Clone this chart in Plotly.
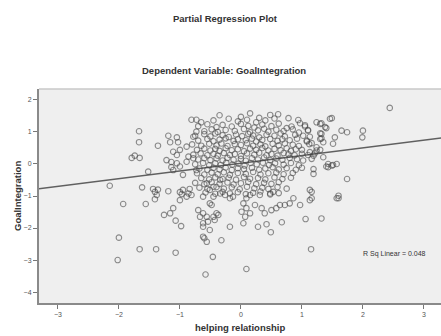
import plotly.graph_objects as go

# ---- data ----
LEFT_POINTS = [
    (-2.15, -0.68), (-2.02, -3.0), (-2.0, -2.30), (-1.93, -1.25), (-1.79, 0.19), (-1.74, 0.26),
    (-1.67, 1.02), (-1.67, 0.68), (-1.66, 0.19), (-1.66, -2.66), (-1.62, -0.73), (-1.56, -1.25),
    (-1.52, -0.24), (-1.44, -0.78), (-1.41, -0.87), (-1.41, -1.10), (-1.39, -2.66), (-1.38, -0.97),
    (-1.36, 0.57), (-1.36, -0.80), (-1.26, -1.59), (-1.22, 0.12), (-1.19, 0.88), (-1.19, -0.85),
    (-1.16, 0.68), (-1.16, -1.54), (-1.14, -0.10), (-1.14, 0.06), (-1.11, -1.38), (-1.11, -0.19),
    (-1.11, 0.38), (-1.07, -1.77), (-1.07, -2.77), (-1.05, 0.83), (-1.05, 0.02), (-1.05, 0.28),
    (-1.03, 0.68), (-1.0, -0.08), (-1.0, 0.44), (-1.0, -0.88), (-1.0, -1.13), (-0.98, -1.94),
    (-0.97, -0.94), (-0.95, -0.34), (-0.95, -0.81), (-0.89, 0.07), (-0.89, 0.54), (-0.89, -1.02),
    (-0.86, 0.23), (-0.86, -0.92), (-0.84, -0.78), (-0.81, 1.38), (-0.81, -0.97), (-0.78, 0.85),
    (-0.78, 0.18), (-0.73, 1.38), (-0.73, 1.01), (-0.73, -0.19),
]

LOWER_POINTS = [
    (-0.70, -1.44), (-0.67, -1.65), (-0.62, -1.02), (-0.62, -1.54), (-0.62, -1.85), (-0.62, -1.96),
    (-0.62, -2.27), (-0.60, -2.32), (-0.56, -2.43), (-0.58, -3.45), (-0.56, -1.65), (-0.56, -0.60),
    (-0.54, -1.80), (-0.51, -1.23), (-0.51, -2.06), (-0.51, -0.81), (-0.48, -1.28), (-0.46, -2.90),
    (-0.45, -1.02), (-0.45, -1.65), (-0.45, -0.71), (-0.43, -1.75), (-0.40, -1.54), (-0.37, -1.59),
    (-0.34, -0.92), (-0.34, -0.50), (-0.32, -2.38), (-0.26, -0.97), (-0.18, -1.07), (-0.18, -1.96),
    (-0.13, -1.02), (0.01, -1.49), (0.04, -1.23), (0.04, -1.85), (0.07, -1.65), (0.09, -1.07),
    (0.09, -1.38), (0.09, -3.28), (0.15, -0.97), (0.15, -1.54), (0.23, -1.28), (0.28, -1.96),
    (0.31, -0.97), (0.34, -1.38), (0.39, -1.54), (0.42, -1.88), (0.48, -0.92), (0.49, -2.13),
    (0.50, -1.44), (0.53, -0.87), (0.58, -1.38), (0.64, -1.28), (0.67, -1.82), (0.72, -1.28),
    (0.80, -1.23), (0.86, -1.07), (0.97, -1.28), (1.06, -1.72), (1.13, -1.13), (1.13, -0.81),
    (1.15, -2.66), (1.16, -0.87), (1.16, -1.07), (1.32, -1.70), (1.57, -1.07), (1.60, -1.07),
    (1.60, -0.99),
]

RIGHT_POINTS = [
    (2.44, 1.75), (1.46, 1.41), (1.49, 1.43), (1.24, 1.30), (1.30, 1.25), (1.32, 1.27), (1.38, 1.15),
    (1.40, 1.12), (1.65, 1.04), (1.74, 0.99), (2.0, 1.04), (1.99, 0.83), (1.54, 0.83), (1.51, 0.63),
    (1.32, 0.94), (1.30, 0.78), (1.35, 0.68), (1.24, 0.52), (1.24, 0.42), (1.19, 0.26), (1.16, 0.16),
    (1.13, 0.37), (1.35, 0.21), (1.43, 0.0), (1.49, -0.05), (1.57, 0.0), (1.43, -0.10), (1.51, -0.03),
    (1.40, -0.08), (1.19, -0.16), (1.19, -0.31), (1.74, -0.47), (1.30, 0.44), (1.21, 0.33),
    (1.13, 0.85), (1.08, 0.70), (1.16, 0.65), (1.30, 0.96), (1.32, 0.80), (1.05, 1.17), (1.10, 1.06),
]

CORE_POINTS = [
    (-0.35, 1.52), (0.0, 1.47), (0.15, 1.58), (0.30, 1.44), (0.48, 1.53), (0.61, 1.55),
    (-0.65, 1.30), (-0.45, 1.36), (-0.2, 1.41), (-0.05, 1.33), (0.1, 1.38), (0.25, 1.30), (0.4, 1.36),
    (0.55, 1.42), (0.78, 1.43), (0.94, 1.37),
    (-0.7, 1.18), (-0.55, 1.24), (-0.4, 1.15), (-0.3, 1.22), (-0.15, 1.17), (0.0, 1.25), (0.12, 1.19),
    (0.22, 1.14), (0.35, 1.23), (0.5, 1.18), (0.62, 1.26), (0.75, 1.12), (0.83, 1.17), (0.97, 1.27),
    (1.05, 1.21),
    (-0.6, 1.02), (-0.48, 1.08), (-0.38, 1.0), (-0.25, 1.06), (-0.1, 1.03), (0.05, 1.09), (0.15, 0.99),
    (0.28, 1.05), (0.38, 1.1), (0.45, 1.01), (0.58, 1.07), (0.7, 1.03), (0.85, 1.08), (0.95, 0.98),
    (1.1, 1.04),
    (-0.75, 0.88), (-0.6, 0.93), (-0.5, 0.86), (-0.42, 0.95), (-0.3, 0.9), (-0.2, 0.84), (-0.08, 0.92),
    (0.02, 0.87), (0.12, 0.94), (0.2, 0.89), (0.3, 0.83), (0.42, 0.91), (0.55, 0.88), (0.65, 0.95),
    (0.72, 0.86), (0.89, 0.91), (1.02, 0.88),
    (-0.7, 0.73), (-0.55, 0.78), (-0.45, 0.71), (-0.35, 0.76), (-0.25, 0.8), (-0.12, 0.72), (-0.05, 0.77),
    (0.08, 0.74), (0.18, 0.79), (0.25, 0.7), (0.35, 0.75), (0.48, 0.78), (0.6, 0.72), (0.68, 0.77),
    (0.8, 0.74), (0.92, 0.79), (1.08, 0.73),
    (-0.8, 0.61), (-0.65, 0.57), (-0.52, 0.63), (-0.4, 0.58), (-0.32, 0.64), (-0.22, 0.56), (-0.1, 0.62),
    (0.0, 0.59), (0.1, 0.65), (0.2, 0.57), (0.32, 0.61), (0.4, 0.55), (0.52, 0.63), (0.62, 0.58),
    (0.72, 0.64), (0.85, 0.6), (0.95, 0.56), (1.12, 0.62),
    (-0.72, 0.44), (-0.6, 0.48), (-0.5, 0.42), (-0.42, 0.47), (-0.35, 0.41), (-0.25, 0.49), (-0.15, 0.43),
    (-0.05, 0.46), (0.05, 0.4), (0.15, 0.48), (0.25, 0.44), (0.35, 0.5), (0.45, 0.42), (0.55, 0.47),
    (0.65, 0.43), (0.75, 0.49), (0.82, 0.41), (0.9, 0.46), (1.0, 0.44),
    (-0.78, 0.29), (-0.66, 0.33), (-0.55, 0.27), (-0.45, 0.32), (-0.38, 0.26), (-0.28, 0.34),
    (-0.18, 0.28), (-0.1, 0.31), (0.0, 0.25), (0.1, 0.33), (0.22, 0.29), (0.3, 0.35), (0.42, 0.27),
    (0.5, 0.31), (0.6, 0.26), (0.7, 0.34), (0.78, 0.3), (0.88, 0.27), (1.0, 0.32), (1.1, 0.28),
    (-0.7, 0.14), (-0.6, 0.18), (-0.5, 0.12), (-0.4, 0.17), (-0.3, 0.11), (-0.22, 0.19), (-0.12, 0.13),
    (0.0, 0.16), (0.08, 0.1), (0.18, 0.18), (0.28, 0.14), (0.38, 0.2), (0.48, 0.12), (0.58, 0.17),
    (0.68, 0.13), (0.8, 0.19), (0.92, 0.15), (1.02, 0.11),
    (-0.75, -0.01), (-0.62, 0.03), (-0.52, -0.04), (-0.42, 0.02), (-0.33, -0.03), (-0.24, 0.04),
    (-0.14, -0.02), (-0.04, 0.01), (0.06, -0.05), (0.16, 0.03), (0.26, -0.01), (0.36, 0.04),
    (0.46, -0.03), (0.56, 0.02), (0.7, -0.02), (0.82, 0.03), (0.95, -0.04),
    (-0.68, -0.14), (-0.55, -0.18), (-0.45, -0.12), (-0.35, -0.17), (-0.25, -0.11), (-0.15, -0.19),
    (-0.05, -0.13), (0.05, -0.16), (0.18, -0.12), (0.3, -0.18), (0.4, -0.14), (0.52, -0.1),
    (0.62, -0.17), (0.75, -0.13), (0.9, -0.18), (1.0, -0.12),
    (-0.72, -0.29), (-0.6, -0.33), (-0.48, -0.27), (-0.38, -0.32), (-0.28, -0.26), (-0.18, -0.34),
    (-0.05, -0.28), (0.08, -0.31), (0.2, -0.25), (0.32, -0.33), (0.45, -0.29), (0.58, -0.27),
    (0.7, -0.32), (0.85, -0.28),
    (-0.65, -0.44), (-0.52, -0.48), (-0.42, -0.42), (-0.3, -0.47), (-0.2, -0.43), (-0.08, -0.49),
    (0.05, -0.41), (0.15, -0.46), (0.28, -0.44), (0.4, -0.48), (0.55, -0.42), (0.68, -0.47), (0.82, -0.43),
    (-0.75, -0.59), (-0.6, -0.63), (-0.48, -0.57), (-0.35, -0.62), (-0.22, -0.58), (-0.12, -0.64),
    (0.0, -0.6), (0.12, -0.56), (0.25, -0.63), (0.38, -0.59), (0.5, -0.62), (0.62, -0.57),
    (-0.68, -0.74), (-0.55, -0.78), (-0.4, -0.72), (-0.28, -0.77), (-0.15, -0.73), (-0.02, -0.79),
    (0.1, -0.71), (0.22, -0.76), (0.35, -0.74), (0.45, -0.78), (0.6, -0.72), (0.75, -0.77),
    (-0.58, -0.89), (-0.42, -0.93), (-0.3, -0.87), (-0.18, -0.92), (-0.05, -0.88), (0.08, -0.94),
    (0.2, -0.9), (0.32, -0.86), (0.48, -0.95), (0.62, -0.91),
]

FIT_INTERCEPT = 0.02
FIT_SLOPE = 0.24
X_RANGE = [-3.31, 3.28]
Y_RANGE = [-4.34, 2.34]
X_TICKS = [-3, -2, -1, 0, 1, 2, 3]
Y_TICKS = [-4, -3, -2, -1, 0, 1, 2]
TITLE = "Partial Regression Plot"
SUBTITLE = "Dependent Variable: GoalIntegration"
X_TITLE = "helping relationship"
Y_TITLE = "GoalIntegration"
R2_TEXT = "R Sq Linear = 0.048"

# ---- figure ----
pts = LEFT_POINTS + LOWER_POINTS + RIGHT_POINTS + CORE_POINTS
xs = [p[0] for p in pts]
ys = [p[1] for p in pts]

W, H = 441, 336
ML, MR, MT, MB = 39, 0, 89, 33
PW, PH = W - ML - MR, H - MT - MB

def px_to_paper_x(px):
    return (px - ML) / PW

def py_to_paper_y(py):
    return (H - MB - py) / PH

FONT = "Liberation Sans, Arial, sans-serif"

fig = go.Figure()
fit_x = [X_RANGE[0] - 0.1, X_RANGE[1] + 0.1]
fit_y = [FIT_INTERCEPT + FIT_SLOPE * v for v in fit_x]
fig.add_trace(go.Scatter(x=fit_x, y=fit_y, mode="lines",
                         line=dict(color="#606060", width=1.5), hoverinfo="skip"))
fig.add_trace(go.Scatter(x=xs, y=ys, mode="markers",
                         marker=dict(symbol="circle-open", size=5.5,
                                     color="rgba(70,70,70,0.6)",
                                     line=dict(width=1.1, color="rgba(70,70,70,0.6)"))))

fig.update_layout(
    width=W, height=H,
    margin=dict(l=ML, r=MR, t=MT, b=MB, pad=0),
    paper_bgcolor="white",
    plot_bgcolor="#efefef",
    showlegend=False,
    font=dict(family=FONT, color="#333"),
    xaxis=dict(range=X_RANGE, tickvals=X_TICKS, ticks="outside", ticklen=4, tickwidth=1,
               tickcolor="#777", showline=True, linecolor="#8a8a8a", linewidth=2,
               showgrid=False, zeroline=False, tickfont=dict(size=7, color="#555")),
    yaxis=dict(range=Y_RANGE, tickvals=Y_TICKS, ticks="outside", ticklen=4, tickwidth=1,
               tickcolor="#777", showline=True, linecolor="#8a8a8a", linewidth=2,
               showgrid=False, zeroline=False, tickfont=dict(size=7, color="#555")),
    shapes=[dict(type="line", xref="paper", yref="paper", x0=0, x1=1, y0=1, y1=1,
                 line=dict(color="#c8c8c8", width=1.5))],
)

anns = [
    dict(text="<b>%s</b>" % TITLE, x=px_to_paper_x(225), y=py_to_paper_y(18), size=9.5),
    dict(text="<b>%s</b>" % SUBTITLE, x=px_to_paper_x(224), y=py_to_paper_y(70), size=9.5),
    dict(text="<b>%s</b>" % X_TITLE, x=px_to_paper_x(240), y=py_to_paper_y(327), size=9.5),
    dict(text=R2_TEXT, x=px_to_paper_x(394), y=py_to_paper_y(254), size=7),
]
for a in anns:
    fig.add_annotation(text=a["text"], x=a["x"], y=a["y"], xref="paper", yref="paper",
                       xanchor="center", yanchor="middle", showarrow=False,
                       font=dict(size=a["size"], family=FONT, color="#333"))
fig.add_annotation(text="<b>%s</b>" % Y_TITLE, x=px_to_paper_x(17), y=py_to_paper_y(196),
                   xref="paper", yref="paper", xanchor="center", yanchor="middle",
                   textangle=-90, showarrow=False,
                   font=dict(size=9.5, family=FONT, color="#333"))

fig.write_html("out.html")
